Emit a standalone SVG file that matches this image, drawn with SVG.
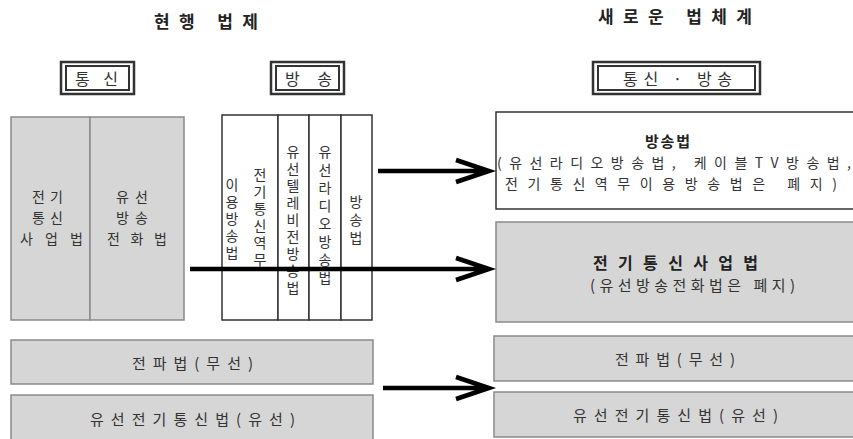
<svg xmlns="http://www.w3.org/2000/svg" width="853" height="439" viewBox="0 0 853 439">
<style>
text{font-family:"Noto Sans CJK KR","Noto Sans",sans-serif;dominant-baseline:central;fill:#333;font-size:15px}
.h{font-weight:bold;font-size:17px;fill:#222}
.t{font-weight:bold;font-size:16px;fill:#222}
.b{font-size:16px}
.s{font-size:14px}
.v{font-size:14px;writing-mode:vertical-rl;text-orientation:upright;letter-spacing:3px}
.g{fill:#d6d6d6;stroke:#8a8a8a;stroke-width:1.5}
.w{fill:#fff;stroke:#333;stroke-width:1.5}
.o{fill:#fff;stroke:#333;stroke-width:2.5}
.i{fill:none;stroke:#333;stroke-width:2}
.a{fill:none;stroke:#000;stroke-width:4.5;stroke-linejoin:miter}
</style>
<rect width="853" height="439" fill="#fff"/>
<g id="headers">
<text class="h" x="154" y="20" textLength="104" lengthAdjust="spacing">현행 법제</text>
<text class="h" x="598" y="15" textLength="154" lengthAdjust="spacing">새로운 법체계</text>
</g>
<g id="label-tongsin">
<rect class="o" x="61" y="62" width="73" height="32"/>
<rect class="i" x="66" y="66" width="63" height="24"/>
<text class="b" x="75" y="78" textLength="43" lengthAdjust="spacing">통신</text>
</g>
<g id="label-bangsong">
<rect class="o" x="271" y="62" width="73" height="32"/>
<rect class="i" x="276" y="66" width="63" height="24"/>
<text class="b" x="285" y="78" textLength="47" lengthAdjust="spacing">방송</text>
</g>
<g id="label-new">
<rect class="o" x="593" y="62" width="167" height="32"/>
<rect class="i" x="598" y="66" width="157" height="24"/>
<text class="b" x="623" y="78" textLength="109" lengthAdjust="spacing">통신 · 방송</text>
</g>
<g id="telecom-business-act">
<rect class="g" x="11" y="117" width="79" height="203"/>
<text class="s" x="32" y="196" textLength="31" lengthAdjust="spacing">전기</text>
<text class="s" x="32" y="217" textLength="31" lengthAdjust="spacing">통신</text>
<text class="s" x="20" y="238" textLength="63" lengthAdjust="spacing">사업법</text>
</g>
<g id="cable-broadcast-phone-act">
<rect class="g" x="90" y="117" width="94" height="203"/>
<text class="s" x="116" y="196" textLength="32" lengthAdjust="spacing">유선</text>
<text class="s" x="116" y="217" textLength="32" lengthAdjust="spacing">방송</text>
<text class="s" x="107" y="238" textLength="60" lengthAdjust="spacing">전화법</text>
</g>
<g id="telecom-service-broadcast-act">
<rect class="w" x="222" y="115" width="56" height="205"/>
<text class="v" x="260" y="168">전기통신역무</text>
<text class="v" x="232" y="178">이용방송법</text>
</g>
<g id="cable-tv-act">
<rect class="w" x="278" y="115" width="31" height="205"/>
<text class="v" x="293" y="145">유선텔레비전방송법</text>
</g>
<g id="cable-radio-act">
<rect class="w" x="309" y="115" width="32" height="205"/>
<text class="v" x="325" y="145" style="letter-spacing:4px">유선라디오방송법</text>
</g>
<g id="broadcast-act-old">
<rect class="w" x="341" y="115" width="31" height="205"/>
<text class="v" x="356" y="195" style="letter-spacing:4px">방송법</text>
</g>
<g id="radio-act-old">
<rect class="g" x="11" y="340" width="362" height="44"/>
<text x="132" y="362" textLength="121" lengthAdjust="spacing">전파법(무선)</text>
</g>
<g id="wire-telecom-act-old">
<rect class="g" x="11" y="395" width="362" height="50"/>
<text x="90" y="418" textLength="205" lengthAdjust="spacing">유선전기통신법(유선)</text>
</g>
<g id="broadcast-act-new">
<rect class="w" x="496" y="112" width="362" height="97"/>
<text class="t" x="645" y="140" textLength="45" lengthAdjust="spacing" style="font-size:15px">방송법</text>
<text x="497" y="162" textLength="354" lengthAdjust="spacing" style="font-size:14px">(유선라디오방송법, 케이블TV방송법,</text>
<text x="505" y="183" textLength="332" lengthAdjust="spacing" style="font-size:14px">전기통신역무이용방송법은 폐지)</text>
</g>
<g id="telecom-business-act-new">
<rect class="g" x="496" y="222" width="362" height="100"/>
<text class="t" x="593" y="262" textLength="165" lengthAdjust="spacing">전기통신사업법</text>
<text x="590" y="284" textLength="205" lengthAdjust="spacing">(유선방송전화법은 폐지)</text>
</g>
<g id="radio-act-new">
<rect class="g" x="494" y="336" width="364" height="45"/>
<text x="615" y="358" textLength="120" lengthAdjust="spacing">전파법(무선)</text>
</g>
<g id="wire-telecom-act-new">
<rect class="g" x="494" y="392" width="364" height="45"/>
<text x="573" y="414" textLength="205" lengthAdjust="spacing">유선전기통신법(유선)</text>
</g>
<g id="connectors">
<path class="a" d="M378 171H486M456 160L489 171L456 182"/>
<path class="a" d="M190 269H486M456 258L489 269L456 280"/>
<path class="a" d="M383 388H486M456 377L489 388L456 399"/>
</g>
</svg>
